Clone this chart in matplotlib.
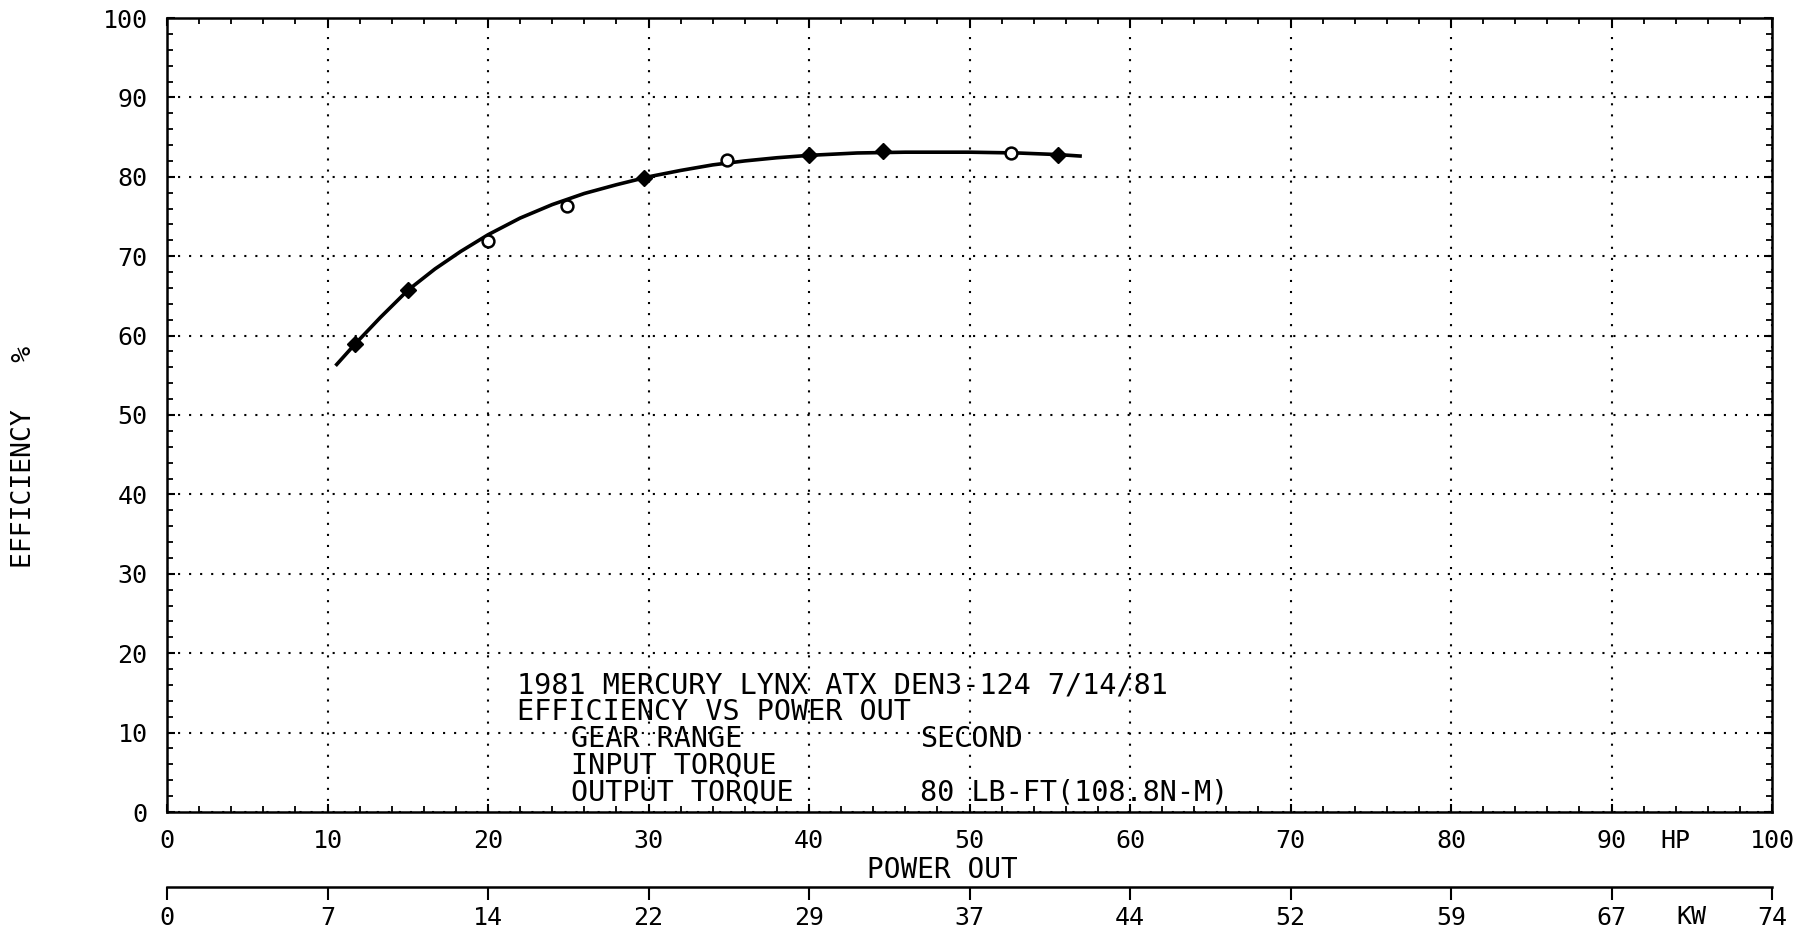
import matplotlib
matplotlib.use("Agg")
import matplotlib.pyplot as plt
import matplotlib.transforms as mtransforms
from matplotlib.ticker import MultipleLocator

plt.rcParams['font.family'] = ['DejaVu Sans Mono', 'DejaVu Sans']

# ---------------- data ----------------
hp_ticks = [0, 10, 20, 30, 40, 50, 60, 70, 80, 90, 100]
hp_tick_labels = ['0', '10', '20', '30', '40', '50', '60', '70', '80', '90', '100']
kw_tick_labels = ['0', '7', '14', '22', '29', '37', '44', '52', '59', '67', '74']
eff_ticks = [0, 10, 20, 30, 40, 50, 60, 70, 80, 90, 100]
eff_tick_labels = ['0', '10', '20', '30', '40', '50', '60', '70', '80', '90', '100']

# measured points (power out HP, efficiency %)
point_hp = [11.7, 15.0, 20.0, 24.9, 29.7, 34.9, 40.0, 44.6, 52.6, 55.5]
point_eff = [58.9, 65.8, 71.9, 76.3, 79.8, 82.1, 82.8, 83.2, 83.0, 82.8]
point_filled = [True, True, False, False, True, False, True, True, False, True]

# fitted curve
curve_hp = [10.5, 11.7, 13.3, 15.0, 16.7, 18.3, 20.0, 22.0, 24.0, 26.0, 28.0,
            30.0, 32.0, 34.0, 36.0, 38.0, 40.0, 43.0, 46.0, 50.0, 53.0, 55.5, 57.0]
curve_eff = [56.2, 58.9, 62.3, 65.7, 68.4, 70.6, 72.7, 74.8, 76.5, 77.9, 79.0,
             80.0, 80.8, 81.5, 82.0, 82.4, 82.7, 83.0, 83.1, 83.1, 83.0, 82.8, 82.6]

info_lines_left = ['1981 MERCURY LYNX ATX DEN3-124 7/14/81',
                   'EFFICIENCY VS POWER OUT']
info_labels = ['GEAR RANGE', 'INPUT TORQUE', 'OUTPUT TORQUE']
info_values = ['SECOND', '', '80 LB-FT(108.8N-M)']

# ---------------- figure ----------------
W, H = 1819, 934
fig = plt.figure(figsize=(W / 100, H / 100), dpi=100)
fig.patch.set_facecolor('white')

ax_l, ax_r, ax_t, ax_b = 167, 1772, 18, 812
ax = fig.add_axes([ax_l / W, 1 - ax_b / H, (ax_r - ax_l) / W, (ax_b - ax_t) / H])
ax.set_xlim(0, 100)
ax.set_ylim(0, 100)

for sp in ax.spines.values():
    sp.set_linewidth(1.8)
    sp.set_color('black')

ax.set_xticks(hp_ticks, labels=hp_tick_labels)
ax.set_yticks(eff_ticks, labels=eff_tick_labels)
ax.xaxis.set_minor_locator(MultipleLocator(2))
ax.yaxis.set_minor_locator(MultipleLocator(2))
ax.tick_params(which='major', direction='in', length=6, width=1.5,
               top=True, right=True, labelsize=18, colors='black')
ax.tick_params(which='minor', direction='in', length=4.5, width=1.3,
               top=True, right=True)
ax.tick_params(axis='x', which='major', pad=12)
ax.tick_params(axis='y', which='major', pad=14)

ax.grid(True, which='major', color='black', linestyle=(0, (1, 4.3)), linewidth=1.5)

# curve and points
ax.plot(curve_hp, curve_eff, color='black', linewidth=2.6, solid_capstyle='butt', zorder=3)
for x, y, f in zip(point_hp, point_eff, point_filled):
    if f:
        ax.plot([x], [y], marker='D', markersize=8, color='black', zorder=4)
    else:
        ax.plot([x], [y], marker='o', markersize=8.5, markerfacecolor='white',
                markeredgecolor='black', markeredgewidth=1.8, zorder=4)

# annotation block
def ey(py):
    return (ax_b - py) / (ax_b - ax_t) * 100

line_y = [685, 712, 739, 766, 793]
ax.text(21.8, ey(line_y[0]), info_lines_left[0], fontsize=20.5, va='center', ha='left')
ax.text(21.8, ey(line_y[1]), info_lines_left[1], fontsize=20.5, va='center', ha='left')
for i, (lab, val) in enumerate(zip(info_labels, info_values)):
    ax.text(25.2, ey(line_y[2 + i]), lab, fontsize=20.5, va='center', ha='left')
    if val:
        ax.text(46.9, ey(line_y[2 + i]), val, fontsize=20.5, va='center', ha='left')

# unit labels
trans = mtransforms.blended_transform_factory(ax.transData, ax.transAxes)
hgt = ax_b - ax_t
ax.text(94.0, -(841 - ax_b) / hgt, 'HP', transform=trans, fontsize=18,
        ha='center', va='center')
ax.text(48.3, -(870 - ax_b) / hgt, 'POWER OUT', transform=trans, fontsize=20,
        ha='center', va='center')

# secondary kW axis
sec = ax.secondary_xaxis(-(887 - ax_b) / hgt)
sec.set_xticks(hp_ticks, labels=kw_tick_labels)
sec.spines['bottom'].set_linewidth(1.8)
sec.tick_params(direction='out', length=9, width=1.5, labelsize=18, pad=5)
ax.text(95.0, -(917 - ax_b) / hgt, 'KW', transform=trans, fontsize=18,
        ha='center', va='center')

# y label
fig.text(24 / W, 1 - 457 / H, 'EFFICIENCY   %', rotation=90, fontsize=19,
         ha='center', va='center')

fig.savefig('out.png', dpi=100, facecolor='white')
